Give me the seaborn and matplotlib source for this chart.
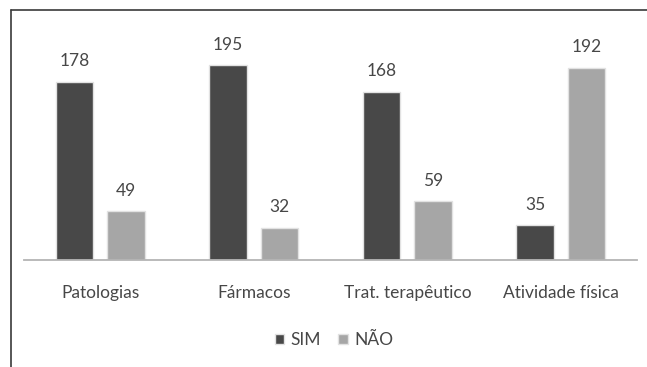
import matplotlib
matplotlib.use("Agg")
import matplotlib.pyplot as plt
from matplotlib.lines import Line2D
import seaborn as sns
import pandas as pd

categorias = ["Patologias", "Fármacos", "Trat. terapêutico", "Atividade física"]
sim = [178, 195, 168, 35]
nao = [49, 32, 59, 192]
respostas = ["SIM", "NÃO"]
cores = ["#484848", "#a6a6a6"]

df = pd.DataFrame({
    "categoria": categorias * 2,
    "valor": sim + nao,
    "resposta": [respostas[0]] * len(categorias) + [respostas[1]] * len(categorias),
})

sns.set_theme(style="white")
plt.rcParams["font.family"] = ["Lato", "DejaVu Sans"]

W, H = 647, 367
fig = plt.figure(figsize=(W / 100, H / 100), dpi=100)
left, right, base, top = 23.7, 637.5, 260, 60
ax = fig.add_axes([left / W, (H - base) / H, (right - left) / W, (base - top) / H])

sns.barplot(data=df, x="categoria", y="valor", hue="resposta",
            palette=cores, width=0.67, gap=0.27, ax=ax,
            edgecolor="#e2e2e2", linewidth=1.0, legend=True)

txt = "#474747"
ax.set_ylim(0, 200)
ax.set_xlim(-0.5, 3.5)
ax.set_xlabel("")
ax.set_ylabel("")
ax.set_yticks([])
for s in ["top", "left", "right"]:
    ax.spines[s].set_visible(False)
ax.spines["bottom"].set_color("#b4b4b4")
ax.spines["bottom"].set_linewidth(1.3)
ax.tick_params(axis="x", length=0, pad=18, labelsize=12.5, labelcolor=txt)

for cont in ax.containers:
    ax.bar_label(cont, padding=9, fontsize=12.5, color=txt)

handles, labels = ax.get_legend_handles_labels()
ax.legend(handles, labels, loc="center", bbox_to_anchor=(334 / W, (H - 340) / H),
          bbox_transform=fig.transFigure, ncol=2, frameon=False,
          handlelength=0.55, handleheight=0.55, handletextpad=0.35,
          columnspacing=1.0, fontsize=12.5, labelcolor=txt)

# chart frame: top and left edges
fig.add_artist(Line2D([10.5 / W, 1.0], [1 - 9.5 / H, 1 - 9.5 / H],
                      transform=fig.transFigure, color="#3a3a3a", linewidth=1.2))
fig.add_artist(Line2D([10.5 / W, 10.5 / W], [0.0, 1 - 9.5 / H],
                      transform=fig.transFigure, color="#3a3a3a", linewidth=1.2))

fig.savefig("out.png", dpi=100, facecolor="white")
